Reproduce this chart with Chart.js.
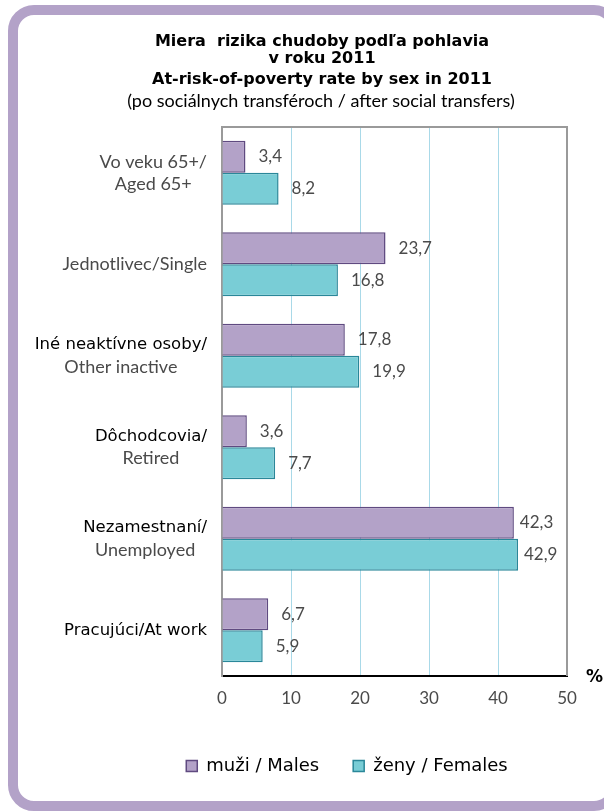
<!DOCTYPE html>
<html>
<head>
<meta charset="utf-8">
<script src="https://cdn.jsdelivr.net/npm/chart.js@4/dist/chart.umd.min.js"></script>
<style>
  html, body { margin: 0; padding: 0; background: #fff; }
  #wrap { position: relative; width: 604px; height: 811px; overflow: hidden; }
  #frame { position: absolute; left: 8px; top: 5px; width: 592px; height: 786px;
           border: 10px solid #b3a2c8; border-radius: 26px; background: #fff; }
  #chart { position: absolute; left: 0; top: 0; }
</style>
</head>
<body>
<div id="wrap">
  <div id="frame"></div>
  <canvas id="chart" width="604" height="811"></canvas>
</div>
<script>
// categories (first line, second line)
const categoryLines = [
    ['Vo veku 65+/', 'Aged 65+'],
    ['Jednotlivec/Single'],
    ['Iné neaktívne osoby/', 'Other inactive'],
    ['Dôchodcovia/', 'Retired'],
    ['Nezamestnaní/', 'Unemployed'],
    ['Pracujúci/At work']
];
// first line printed dark (Slovak part) or light
const categoryFirstDark = [false, false, true, true, true, true];

const malesValues = [3.4, 23.7, 17.8, 3.6, 42.3, 6.7];
const femalesValues = [8.2, 16.8, 19.9, 7.7, 42.9, 5.9];

const seriesNames = ['muži / Males', 'ženy / Females'];
const xTicks = [0, 10, 20, 30, 40, 50];

const titleLines = ['Miera  rizika chudoby podľa pohlavia', 'v roku 2011', 'At-risk-of-poverty rate by sex in 2011'];
const subtitleText = '(po sociálnych transféroch / after social transfers)';
const unitText = '%';

const DARK_FONT = '"DejaVu Sans", sans-serif';
const LIGHT_FONT = 'Lato, "Open Sans", sans-serif';

const textPlugin = {
    id: 'textPlugin',
    afterDraw: function (chart) {
        const ctx = chart.ctx;
        const area = chart.chartArea;
        const yScale = chart.scales.y;
        ctx.save();

        // plot frame (top / right)
        ctx.strokeStyle = '#9a9a9a';
        ctx.lineWidth = 2;
        ctx.beginPath();
        ctx.moveTo(area.left, area.top);
        ctx.lineTo(area.right, area.top);
        ctx.lineTo(area.right, area.bottom);
        ctx.stroke();

        // title
        ctx.fillStyle = '#000';
        ctx.textAlign = 'center';
        ctx.textBaseline = 'middle';
        ctx.font = 'bold 16px ' + DARK_FONT;
        ctx.fillText(titleLines[0], 322, 42);
        ctx.fillText(titleLines[1], 322, 59);
        ctx.fillText(titleLines[2], 322, 80);
        ctx.font = '18px ' + LIGHT_FONT;
        ctx.fillText(subtitleText, 321, 101);

        // unit
        ctx.font = 'bold 17px ' + DARK_FONT;
        ctx.textAlign = 'left';
        ctx.fillText(unitText, 586, 678);

        // category labels
        const rightEdge = 207;
        categoryLines.forEach(function (lines, i) {
            const cy = yScale.getPixelForValue(i);
            const fonts = lines.map(function (l, j) {
                return (j === 0 && categoryFirstDark[i]) ? '16.5px ' + DARK_FONT : '18px ' + LIGHT_FONT;
            });
            let maxW = 0;
            lines.forEach(function (l, j) {
                ctx.font = fonts[j];
                maxW = Math.max(maxW, ctx.measureText(l).width);
            });
            const centerX = rightEdge - maxW / 2;
            const lh = 22;
            const startY = cy - (lines.length - 1) * lh / 2;
            lines.forEach(function (l, j) {
                ctx.font = fonts[j];
                const dark = j === 0 && categoryFirstDark[i];
                ctx.fillStyle = dark ? '#000' : '#4a4a4a';
                ctx.textAlign = 'center';
                ctx.fillText(l, centerX, startY + j * lh);
            });
        });

        // value labels
        ctx.font = '17px ' + LIGHT_FONT;
        ctx.fillStyle = '#4a4a4a';
        ctx.textAlign = 'left';
        chart.data.datasets.forEach(function (ds, di) {
            const meta = chart.getDatasetMeta(di);
            meta.data.forEach(function (bar, i) {
                const off = ds.data[i] > 40 ? 6 : 13;
                ctx.fillText(ds.data[i].toFixed(1).replace('.', ','), bar.x + off, bar.y);
            });
        });

        ctx.restore();
    }
};

const ctx = document.getElementById('chart').getContext('2d');
const chart = new Chart(ctx, {
    type: 'bar',
    data: {
        labels: categoryLines.map(function (l) { return l.join(' '); }),
        datasets: [
            {
                label: seriesNames[0],
                data: malesValues,
                backgroundColor: '#b3a2c8',
                borderColor: '#5f4a80',
                borderWidth: 1.5,
                borderSkipped: 'left'
            },
            {
                label: seriesNames[1],
                data: femalesValues,
                backgroundColor: '#79cdd6',
                borderColor: '#2a8799',
                borderWidth: 1.5,
                borderSkipped: 'left'
            }
        ]
    },
    options: {
        indexAxis: 'y',
        responsive: false,
        animation: false,
        devicePixelRatio: 1,
        categoryPercentage: 0.7,
        barPercentage: 1.0,
        layout: {
            padding: { top: 127, left: 127, right: 37, bottom: 26 }
        },
        plugins: {
            title: { display: false },
            tooltip: { enabled: false },
            legend: {
                position: 'bottom',
                labels: {
                    color: '#000',
                    font: { family: DARK_FONT, size: 18 },
                    boxWidth: 11,
                    boxHeight: 11,
                    padding: 34
                }
            }
        },
        scales: {
            x: {
                min: 0,
                max: 50,
                afterBuildTicks: function (axis) {
                    axis.ticks = xTicks.map(function (v) { return { value: v }; });
                },
                afterFit: function (axis) { axis.height = 47; },
                grid: {
                    drawTicks: false,
                    lineWidth: 1,
                    color: function (c) {
                        if (c.tick && c.tick.value === 50) return '#9a9a9a';
                        if (c.tick && c.tick.value === 0) return 'rgba(0,0,0,0)';
                        return '#a9d9e8';
                    }
                },
                border: { color: '#000', width: 2 },
                ticks: {
                    color: '#4a4a4a',
                    padding: 12,
                    font: { family: LIGHT_FONT, size: 17 }
                }
            },
            y: {
                afterFit: function (axis) { axis.width = 95; },
                grid: { display: false, drawTicks: false },
                border: { color: '#9a9a9a', width: 2 },
                ticks: { display: false }
            }
        }
    },
    plugins: [textPlugin]
});
</script>
</body>
</html>
